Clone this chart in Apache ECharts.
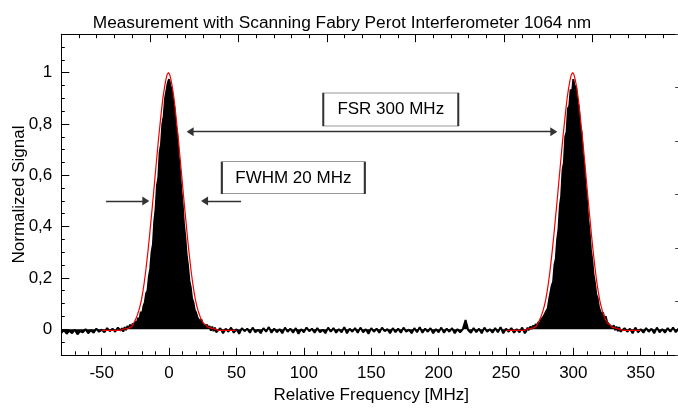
<!DOCTYPE html>
<html><head><meta charset="utf-8">
<script src="https://cdn.jsdelivr.net/npm/echarts@6/dist/echarts.min.js"></script>
<style>html,body{margin:0;padding:0;background:#fff}#c{width:678px;height:408px}</style>
</head><body><div id="c"></div>
<script>
const titleText = 'Measurement with Scanning Fabry Perot Interferometer 1064 nm';
const xName = 'Relative Frequency [MHz]';
const yName = 'Normalized Signal';
const xMajorTicks = [-50, 0, 50, 100, 150, 200, 250, 300, 350];
const yMajorTicks = [0, 0.2, 0.4, 0.6, 0.8, 1];

// measured signal, segments: [start MHz, step MHz, values]
const sigLeftStart = -80, sigLeftStep = 2;
const sigLeft = [-0.014,-0.004,-0.018,-0.006,-0.016,-0.002,-0.020,-0.008,-0.012,0.000,-0.016,-0.004,-0.014,0.002,-0.010,-0.002,-0.012,0.004,-0.008,0.002,-0.010,0.006,-0.006];
const sigPeak1Start = -35, sigPeak1Step = 1;
const sigPeak1 = [0.004,-0.010,0.008,-0.004,0.012,0.002,0.018,0.006,0.022,0.012,
  0.030,0.020,0.045,0.035,0.068,0.060,0.090,0.105,0.140,0.150,
  0.205,0.235,0.300,0.330,0.420,0.470,0.560,0.590,0.690,0.720,
  0.800,0.830,0.900,0.905,0.960,0.975,0.950,0.930,0.895,0.860,
  0.790,0.760,0.680,0.620,0.545,0.490,0.410,0.360,0.290,0.250,
  0.190,0.165,0.120,0.105,0.075,0.065,0.045,0.040,0.030,0.038,
  0.020,0.025,0.010,0.018,0.004,0.012,-0.006,0.010,-0.008,0.006,-0.012];
const sigMidStart = 36, sigMidStep = 2;
const sigMid = [-0.012,0.004,-0.016,0.002,-0.010,0.006,-0.014,0.000,-0.018,0.004,
  -0.008,0.002,-0.014,0.006,-0.012,-0.002,-0.016,0.004,-0.010,0.008,
  -0.014,0.002,-0.012,0.000,-0.016,0.006,-0.010,0.002,-0.014,0.004,
  -0.018,0.000,-0.012,0.006,-0.008,0.002,-0.014,0.004,-0.012,-0.002,
  -0.016,0.006,-0.010,0.004,-0.014,0.000,-0.012,0.008,-0.016,0.002,
  -0.010,0.004,-0.014,0.006,-0.012,0.000,-0.018,0.004,-0.010,0.002,
  -0.014,0.006,-0.008,0.000,-0.016,0.004,-0.012,0.002,-0.014,0.006,
  -0.010,-0.002,-0.016,0.004,-0.012,0.008,-0.014,0.002,-0.010,0.004,
  -0.016,0.000,-0.012,0.006,-0.014,0.002,-0.010,0.004,-0.016,0.000,
  -0.012,0.000,0.036,-0.004,-0.014,0.004,-0.012,0.002,-0.016,0.006,
  -0.010,0.000,-0.014,0.004,-0.012,0.008,-0.016,0.002,-0.010,0.004,
  -0.014,0.000,-0.012,0.006,-0.016];
const sigPeak2Start = 265, sigPeak2Step = 1;
const sigPeak2 = [-0.008,0.006,-0.004,0.010,0.000,0.014,0.004,0.020,0.010,0.028,
  0.018,0.036,0.030,0.050,0.045,0.072,0.080,0.115,0.120,0.170,
  0.185,0.250,0.275,0.350,0.390,0.480,0.520,0.620,0.650,0.750,
  0.770,0.860,0.870,0.935,0.920,0.975,0.940,0.950,0.880,0.870,
  0.790,0.770,0.690,0.640,0.560,0.510,0.430,0.380,0.310,0.270,
  0.210,0.180,0.135,0.120,0.085,0.080,0.055,0.065,0.040,0.050,
  0.028,0.035,0.015,0.022,0.006,0.015,-0.004,0.010,-0.008,0.008,-0.010];
const sigRightStart = 336, sigRightStep = 2;
const sigRight = [-0.014,0.004,-0.010,0.002,-0.016,0.006,-0.012,0.000,-0.014,0.004,-0.010,0.002,-0.016,0.006,-0.012,0.000,-0.014,0.004,-0.010,0.006,-0.012,0.002,-0.014];

// fitted curves (red), 1 MHz bins
const fit1Start = -50, fit1Step = 1;
const fit1 = [-0.005,-0.005,-0.005,-0.005,-0.005,-0.005,-0.005,-0.005,-0.005,-0.005,-0.005,-0.005,-0.005,-0.005,-0.005,-0.005,
  0.000,0.001,0.002,0.003,0.005,0.008,0.011,0.016,0.022,0.031,0.042,0.056,0.072,0.092,0.115,0.145,0.180,0.220,0.265,0.313,0.365,0.420,0.475,0.532,0.590,0.648,0.705,0.760,0.810,0.860,0.905,0.940,0.970,0.992,
  1.000,
  0.992,0.970,0.940,0.905,0.860,0.810,0.760,0.705,0.648,0.590,0.532,0.475,0.420,0.365,0.313,0.265,0.220,0.180,0.145,0.115,0.092,0.072,0.056,0.042,0.031,0.022,0.016,0.011,0.008,0.005,0.003,0.002,0.001,0.000,
  -0.005,-0.005,-0.005,-0.005,-0.005,-0.005,-0.005,-0.005,-0.005,-0.005,-0.005,-0.005,-0.005,-0.005,-0.005,-0.005];
const fit2Start = 250, fit2Step = 1;
const fit2 = [-0.005,-0.005,-0.005,-0.005,-0.005,-0.005,-0.005,-0.005,-0.005,-0.005,-0.005,-0.005,-0.005,-0.005,-0.005,-0.005,
  0.000,0.001,0.002,0.003,0.005,0.008,0.011,0.016,0.022,0.031,0.042,0.056,0.072,0.092,0.115,0.145,0.180,0.220,0.265,0.313,0.365,0.420,0.475,0.532,0.590,0.648,0.705,0.760,0.810,0.860,0.905,0.940,0.970,0.992,
  1.000,
  0.992,0.970,0.940,0.905,0.860,0.810,0.760,0.705,0.648,0.590,0.532,0.475,0.420,0.365,0.313,0.265,0.220,0.180,0.145,0.115,0.092,0.072,0.056,0.042,0.031,0.022,0.016,0.011,0.008,0.005,0.003,0.002,0.001,0.000,
  -0.005,-0.005,-0.005,-0.005,-0.005,-0.005,-0.005,-0.005,-0.005,-0.005,-0.005,-0.005,-0.005,-0.005,-0.005,-0.005];

// annotations (data coordinates)
const fsrArrow = [[15.6, 0.77], [285.5, 0.77]];
const fwhmLeftArrow = [[-46.8, 0.5], [-17.3, 0.5]];
const fwhmRightArrow = [[53.4, 0.5], [26.3, 0.5]];
const fsrBox = {text: 'FSR 300 MHz', at: [164.5, 0.856]};
const fwhmBox = {text: 'FWHM 20 MHz', at: [92.2, 0.59]};

function seg(start, step, vals) { return vals.map((v, i) => [start + i * step, v]); }
const signal = [].concat(
  seg(sigLeftStart, sigLeftStep, sigLeft),
  seg(sigPeak1Start, sigPeak1Step, sigPeak1),
  seg(sigMidStart, sigMidStep, sigMid),
  seg(sigPeak2Start, sigPeak2Step, sigPeak2),
  seg(sigRightStart, sigRightStep, sigRight));

const FONT = "'Liberation Sans', Arial, sans-serif";
const FS = 17;
const chart = echarts.init(document.getElementById('c'), null, {renderer: 'canvas'});
const lineBlack = {show: true, onZero: false, lineStyle: {color: '#000', width: 1}};
const noLine = {show: false, onZero: false};
chart.setOption({
  animation: false,
  backgroundColor: '#fff',
  textStyle: {fontFamily: FONT},
  title: {text: titleText, left: 337, top: 10, textAlign: 'center',
    textStyle: {fontFamily: FONT, fontSize: 17.3, fontWeight: 'normal', color: '#000'}},
  grid: {left: 61.3, top: 34.2, width: 619.85, height: 320.6, containLabel: false, outerBoundsMode: 'none'},
  xAxis: [
    {type: 'value', min: -80, max: 380, position: 'bottom',
     axisLine: lineBlack, splitLine: {show: false},
     axisTick: {show: true, inside: true, length: 7, customValues: xMajorTicks, lineStyle: {color: '#000'}},
     axisLabel: {customValues: xMajorTicks, fontSize: FS, color: '#000', margin: 10, fontFamily: FONT},
     name: xName, nameLocation: 'middle', nameGap: 32, nameMoveOverlap: false,
     nameTextStyle: {fontSize: FS, color: '#000', fontFamily: FONT}},
    {type: 'value', min: -80, max: 380, interval: 10, position: 'bottom',
     axisLine: noLine, splitLine: {show: false}, axisLabel: {show: false},
     axisTick: {show: true, inside: true, length: 3.5, lineStyle: {color: '#000'}}},
    {type: 'value', min: 0, max: 35, interval: 5, position: 'top',
     axisLine: lineBlack, splitLine: {show: false}, axisLabel: {show: false},
     axisTick: {show: true, inside: true, length: 8, lineStyle: {color: '#000'}},
     minorTick: {show: true, splitNumber: 5, length: 4, lineStyle: {color: '#000'}}}
  ],
  yAxis: [
    {type: 'value', min: -0.1, max: 1.15, position: 'left',
     axisLine: lineBlack, splitLine: {show: false},
     axisTick: {show: true, inside: true, length: 8, customValues: yMajorTicks, lineStyle: {color: '#000'}},
     axisLabel: {customValues: yMajorTicks, fontSize: FS, color: '#000', margin: 9, fontFamily: FONT,
       formatter: v => String(v).replace('.', ',')},
     name: yName, nameLocation: 'middle', nameGap: 33, nameMoveOverlap: false,
     nameTextStyle: {fontSize: FS, color: '#000', fontFamily: FONT}},
    {type: 'value', min: -0.1, max: 1.15, interval: 0.05, position: 'left',
     axisLine: noLine, splitLine: {show: false}, axisLabel: {show: false},
     axisTick: {show: true, inside: true, length: 3.5, lineStyle: {color: '#000'}}},
    {type: 'value', min: 0, max: 30, interval: 5, position: 'right',
     axisLine: lineBlack, splitLine: {show: false}, axisLabel: {show: false},
     axisTick: {show: true, inside: true, length: 6, lineStyle: {color: '#444'}},
     minorTick: {show: true, splitNumber: 5, length: 2.5, lineStyle: {color: '#888'}}}
  ],
  series: [
    {type: 'line', name: 'signal', xAxisIndex: 0, yAxisIndex: 0, data: signal,
     showSymbol: false, symbol: 'none', sampling: null, silent: true, z: 2,
     lineStyle: {color: '#000', width: 2}, areaStyle: {color: '#000', opacity: 1},
     markLine: {silent: true, animation: false, symbolSize: [9, 7],
       label: {show: false}, lineStyle: {color: '#333', width: 1.3, type: 'solid'},
       emphasis: {disabled: true},
       data: [
         [{coord: fsrArrow[0], symbol: 'triangle'}, {coord: fsrArrow[1], symbol: 'triangle'}],
         [{coord: fwhmLeftArrow[0], symbol: 'none'}, {coord: fwhmLeftArrow[1], symbol: 'triangle'}],
         [{coord: fwhmRightArrow[0], symbol: 'none'}, {coord: fwhmRightArrow[1], symbol: 'triangle'}]
       ]},
     markPoint: {silent: true, animation: false,
       data: [
         {coord: fsrBox.at, symbol: 'rect', symbolSize: [135, 33],
          itemStyle: {color: '#fff', borderColor: '#333', borderWidth: 1},
          label: {show: true, position: 'inside', formatter: fsrBox.text, fontSize: FS, color: '#000', fontFamily: FONT}},
         {coord: fwhmBox.at, symbol: 'rect', symbolSize: [143, 32],
          itemStyle: {color: '#fff', borderColor: '#333', borderWidth: 1},
          label: {show: true, position: 'inside', formatter: fwhmBox.text, fontSize: FS, color: '#000', fontFamily: FONT}}
       ]}},
    {type: 'line', name: 'fit1', xAxisIndex: 0, yAxisIndex: 0, data: seg(fit1Start, fit1Step, fit1),
     step: 'middle', showSymbol: false, symbol: 'none', silent: true, z: 3,
     lineStyle: {color: '#f00000', width: 1.2}},
    {type: 'line', name: 'fit2', xAxisIndex: 0, yAxisIndex: 0, data: seg(fit2Start, fit2Step, fit2),
     step: 'middle', showSymbol: false, symbol: 'none', silent: true, z: 3,
     lineStyle: {color: '#f00000', width: 1.2}}
  ]
});
</script></body></html>
